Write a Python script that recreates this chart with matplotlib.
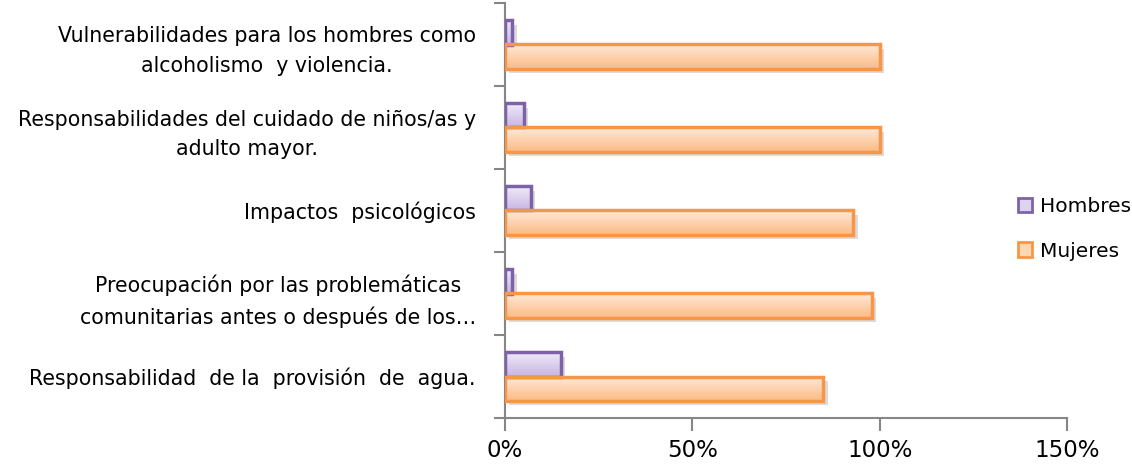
import numpy as np
import matplotlib
matplotlib.use("Agg")
import matplotlib.pyplot as plt
import matplotlib.patheffects as pe
from matplotlib.colors import LinearSegmentedColormap
from matplotlib.patches import Patch
from matplotlib.ticker import FixedLocator, PercentFormatter


categorias = [
    "Vulnerabilidades para los hombres como\nalcoholismo  y violencia.",
    "Responsabilidades del cuidado de niños/as y\nadulto mayor.",
    "Impactos  psicológicos",
    "Preocupación por las problemáticas\ncomunitarias antes o después de los…",
    "Responsabilidad  de la  provisión  de  agua.",
]
hombres = [0.02, 0.05, 0.07, 0.02, 0.15]
mujeres = [1.00, 1.00, 0.93, 0.98, 0.85]
xticks = [0, 0.5, 1.0, 1.5]

plt.rcParams['font.family'] = ['DejaVu Sans']

fig = plt.figure(figsize=(11.32, 4.65), dpi=100)
ax = fig.add_axes([505 / 1132, 1 - 418 / 465, (1067 - 505) / 1132, (418 - 3) / 465])

n = len(categorias)
y = np.arange(n)[::-1]
h = 0.29

estilos = [
    (hombres, y + h / 2, "#7e62a8", "#f1edf9", "#c8b7e3", "Hombres"),
    (mujeres, y - h / 2, "#f79646", "#fee9d8", "#fbbb86", "Mujeres"),
]

for valores, pos, borde, claro, oscuro, nombre in estilos:
    # base con sombra
    base = ax.barh(pos, valores, height=h, color=oscuro, edgecolor="none", zorder=1)
    for b in base:
        b.set_path_effects([pe.SimplePatchShadow(offset=(3, -3), shadow_rgbFace="#999999", alpha=0.35), pe.Normal()])
    # degradado vertical
    cmap = LinearSegmentedColormap.from_list(nombre, [oscuro, claro])
    grad = np.linspace(0, 1, 64).reshape(-1, 1)
    for b in base:
        x0, y0 = b.get_x(), b.get_y()
        im = ax.imshow(grad, extent=[x0, x0 + b.get_width(), y0, y0 + b.get_height()],
                       origin="lower", aspect="auto", cmap=cmap, zorder=2, interpolation="bicubic")
        im.set_clip_path(b)
    ax.barh(pos, valores, height=h, color="none", edgecolor=borde, linewidth=2.5, zorder=3)

ax.set_xlim(0, 1.5)
ax.set_ylim(-0.5, n - 0.5)

ax.set_yticks(y)
ax.set_yticklabels(categorias, fontsize=14.8, linespacing=1.6)
for lbl in ax.get_yticklabels():
    lbl.set_multialignment("center")
ax.yaxis.set_minor_locator(FixedLocator(np.arange(-0.5, n, 1)))
ax.tick_params(axis="y", which="major", length=0, pad=21)
ax.tick_params(axis="y", which="minor", length=8, width=1.5, color="#868686")

ax.set_xticks(xticks)
ax.xaxis.set_major_formatter(PercentFormatter(1.0, decimals=0))
ax.tick_params(axis="x", length=9, width=1.5, color="#868686", labelsize=16.5, pad=6)

for s in ["top", "right"]:
    ax.spines[s].set_visible(False)
for s in ["left", "bottom"]:
    ax.spines[s].set_color("#868686")
    ax.spines[s].set_linewidth(1.5)

handles = [Patch(facecolor="#ddd2ef", edgecolor="#7e62a8", linewidth=2, label="Hombres"),
           Patch(facecolor="#fdd6b4", edgecolor="#f79646", linewidth=2, label="Mujeres")]
fig.legend(handles=handles, loc="center left", bbox_to_anchor=(1000 / 1132, 1 - 229 / 465),
           frameon=False, fontsize=14.5, handlelength=0.7, handleheight=0.7,
           handletextpad=0.4, labelspacing=1.25)

fig.savefig("out.png", dpi=100)
